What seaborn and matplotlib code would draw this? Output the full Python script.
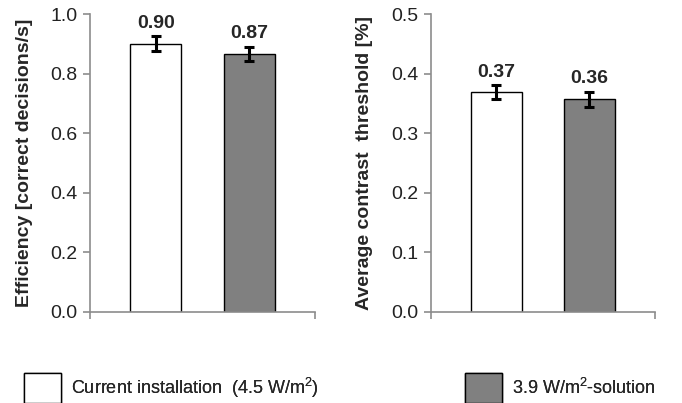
import numpy as np
import pandas as pd
import matplotlib
matplotlib.use("Agg")
import matplotlib.pyplot as plt
from matplotlib.patches import Patch
import seaborn as sns

# data
groups = ["Current installation  (4.5 W/m$^2$)", "3.9 W/m$^2$-solution"]
efficiency = [0.90, 0.866]
efficiency_err = [0.025, 0.025]
efficiency_labels = ["0.90", "0.87"]
threshold = [0.369, 0.357]
threshold_err = [0.012, 0.013]
threshold_labels = ["0.37", "0.36"]
colors = ["white", "#808080"]

sns.set_style("white")
plt.rcParams["font.family"] = ["Liberation Sans", "DejaVu Sans"]
plt.rcParams["mathtext.fontset"] = "custom"
plt.rcParams["mathtext.rm"] = "Liberation Sans"
plt.rcParams["mathtext.default"] = "regular"

fig = plt.figure(figsize=(6.82, 4.03), dpi=100)
ax1 = fig.add_axes([0.132, 0.226, 0.330, 0.739])
ax2 = fig.add_axes([0.632, 0.226, 0.328, 0.739])

panels = [
    (ax1, efficiency, efficiency_err, efficiency_labels, 1.0, 0.2,
     "Efficiency [correct decisions/s]", -0.255),
    (ax2, threshold, threshold_err, threshold_labels, 0.5, 0.1,
     "Average contrast  threshold [%]", -0.26),
]

for ax, vals, errs, labels, ymax, step, ylabel, lx in panels:
    df = pd.DataFrame({"group": groups, "value": vals})
    sns.barplot(data=df, x="group", y="value", hue="group", palette=colors,
                edgecolor="black", linewidth=1.0, width=0.55, legend=False, ax=ax)
    ax.errorbar(range(len(vals)), vals, yerr=errs, fmt="none", ecolor="black",
                elinewidth=2.2, capsize=3.5, capthick=2.2)
    for i, (v, e, lab) in enumerate(zip(vals, errs, labels)):
        ax.annotate(lab, (i, v + e), xytext=(0, 3), textcoords="offset points",
                    ha="center", va="bottom", fontsize=14, fontweight="bold")
    ticks = np.arange(0, ymax + step / 2, step)
    ax.set_xlim(-0.7, 1.7)
    ax.set_ylim(0, ymax)
    ax.set_yticks(ticks)
    ax.set_yticklabels([f"{t:.1f}" for t in ticks], fontsize=14, color="#222222")
    ax.set_xticks([-0.7, 1.7])
    ax.set_xticklabels(["", ""])
    ax.set_xlabel("")
    ax.set_ylabel(ylabel, fontsize=14, fontweight="bold")
    ax.yaxis.set_label_coords(lx, 0.5)
    for side in ["top", "right"]:
        ax.spines[side].set_visible(False)
    for side in ["left", "bottom"]:
        ax.spines[side].set_color("#8c8c8c")
        ax.spines[side].set_linewidth(1.2)
    ax.tick_params(axis="both", direction="out", length=5, width=1.2,
                   color="#8c8c8c", left=True, bottom=True, pad=4)

h1 = [Patch(facecolor=colors[0], edgecolor="black", linewidth=1.0)]
h2 = [Patch(facecolor=colors[1], edgecolor="black", linewidth=1.0)]
for h, lab, x in [(h1, groups[0], 0.035), (h2, groups[1], 0.682)]:
    leg = fig.legend(h, [lab], loc="center left", bbox_to_anchor=(x, 0.037),
                     frameon=False, fontsize=13, handlelength=2.05,
                     handleheight=2.2, handletextpad=0.55, borderpad=0,
                     borderaxespad=0)
    fig.add_artist(leg)

fig.savefig("out.png", dpi=100)
